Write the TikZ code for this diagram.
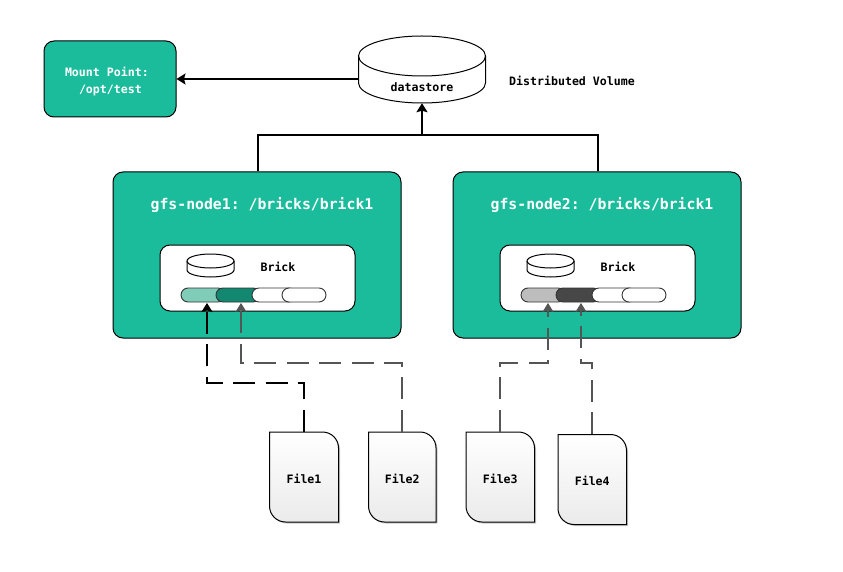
\documentclass[tikz,border=0pt]{standalone}
\usepackage{fontspec}
\setmonofont{DejaVu Sans Mono}
\usetikzlibrary{arrows.meta, shadows}

\definecolor{tealbox}{HTML}{1ABC9C}
\definecolor{tealpale}{HTML}{7FCDB8}
\definecolor{tealdark}{HTML}{128870}
\definecolor{greypale}{HTML}{BDBDBD}
\definecolor{greydark}{HTML}{474747}
\definecolor{greyline}{HTML}{555555}

\tikzset{
    label12/.style = {font=\ttfamily\bfseries\fontsize{11.6}{17}\selectfont, inner sep=0pt},
    label15/.style = {font=\ttfamily\bfseries\fontsize{14.8}{18}\selectfont, text=white, inner sep=0pt},
    nodebox/.style = {draw, line width=1pt, fill=tealbox, rounded corners=10, minimum width=288, minimum height=166, inner sep=0pt},
    brickbox/.style = {draw, line width=1pt, fill=white, rounded corners=10, minimum width=195, minimum height=66, inner sep=0pt},
    segment/.style = {draw=black!80, line width=0.9pt, rounded corners=7, minimum width=44, minimum height=14, inner sep=0pt},
    tree/.style = {line width=2pt},
    tip/.style = {-{Stealth[length=9pt,width=11pt,inset=1.5pt]}},
    blackflow/.style = {tip, line width=2pt, dash pattern=on 22pt off 10.5pt},
    greyflow/.style = {tip, line width=1.7pt, color=greyline, dash pattern=on 22pt off 10.5pt},
}

% disk drawn as a cylinder: centre x, top y, x radius, y radius, side height
\newcommand{\diskshape}[5]{
    \draw [line width=1pt, fill=white] (#1-#3,#2+#4) -- ++(0,#5)
        arc [start angle=180, end angle=360, x radius=#3pt, y radius=#4pt] -- ++(0,-#5)
        arc [start angle=0, end angle=180, x radius=#3pt, y radius=#4pt] -- cycle;
    \draw [line width=1pt] (#1-#3,#2+#4) arc [start angle=180, end angle=360, x radius=#3pt, y radius=#4pt];
}

% file sheet with two round corners, text node on top
\newcommand{\filesheet}[6]{
    \draw [line width=1pt, top color=white, bottom color=black!8, drop shadow={shadow xshift=1.5pt, shadow yshift=-1.5pt, fill=black!45}]
        (#3,#5) [rounded corners=0pt] -- (#4-16,#5)
        [rounded corners=16pt] -- (#4,#5) [rounded corners=0pt] -- (#4,#6) [rounded corners=16pt] -- (#3,#6)
        [rounded corners=0pt] -- cycle;
    \node (#1) [label12, text height=13pt, minimum width=#4-#3, minimum height=#6-#5] at ({(#3+#4)/2},{(#5+#6)/2}) {#2};
}

\begin{document}
\begin{tikzpicture}[x=1pt, y=-1pt]
    \useasboundingbox (0,0) rectangle (843,572);

    \node (mount) [draw, line width=1pt, fill=tealbox, rounded corners=10, minimum width=132, minimum height=76, inner sep=0pt,
        font=\ttfamily\bfseries\fontsize{11.6}{17}\selectfont, text=white, text width=90, align=flush left] at (110,79)
        {\rule{0pt}{14pt}Mount Point:\\\hspace*{14pt}/opt/test};
    \diskshape{422}{36}{63.5}{20}{27}
    \node (datastore) [label12, text height=45pt, minimum width=127, minimum height=67] at (422,69.5) {datastore};
    \node (volume) [label12] at (572,81) {Distributed Volume};

    \node (node1) [nodebox] at (257,255) {};
    \node (node2) [nodebox] at (597,255) {};
    \node (title1) [label15] at (262,205) {gfs-node1: /bricks/brick1};
    \node (title2) [label15] at (602,205) {gfs-node2: /bricks/brick1};

    \node (brick1) [brickbox] at (257.5,278) {};
    \node (brick2) [brickbox] at (597.5,278) {};
    \diskshape{210.5}{254}{23.5}{7}{9}
    \diskshape{550.5}{254}{23.5}{7}{9}
    \node (bricktext1) [label12] at (278,267) {Brick};
    \node (bricktext2) [label12] at (618,267) {Brick};

    \node (seg11) [segment, fill=tealpale] at (203,295) {};
    \node (seg12) [segment, fill=tealdark] at (238,295) {};
    \node (seg13) [segment, fill=white] at (274,295) {};
    \node (seg14) [segment, fill=white] at (304,295) {};
    \node (seg21) [segment, fill=greypale] at (543,295) {};
    \node (seg22) [segment, fill=greydark] at (578,295) {};
    \node (seg23) [segment, fill=white] at (614,295) {};
    \node (seg24) [segment, fill=white] at (644,295) {};

    \filesheet{file1}{File1}{269.5}{338.5}{432}{522}
    \filesheet{file2}{File2}{368.5}{436}{432}{522}
    \filesheet{file3}{File3}{466}{534.5}{432}{522}
    \filesheet{file4}{File4}{558}{626.5}{434.5}{524.5}

    \coordinate (joint) at (422,135);
    \draw [tree] (node1.north -| 258,0) |- (joint);
    \draw [tree] (node2.north -| 598,0) |- (joint);
    \draw [tip, line width=2.4pt] (joint) -- (datastore.south);
    \draw [tip, line width=2pt] (datastore.west |- mount.east) -- (mount.east);

    \draw [blackflow] (file1.north) |- (207,383) -- (207,303);
    \draw [greyflow] (file2.north) |- (241,363) -- (241,303);
    \draw [greyflow] (file3.north) |- (548,363) -- (548,303);
    \draw [greyflow] (file4.north) |- (581,363) -- (581,303);
\end{tikzpicture}
\end{document}
